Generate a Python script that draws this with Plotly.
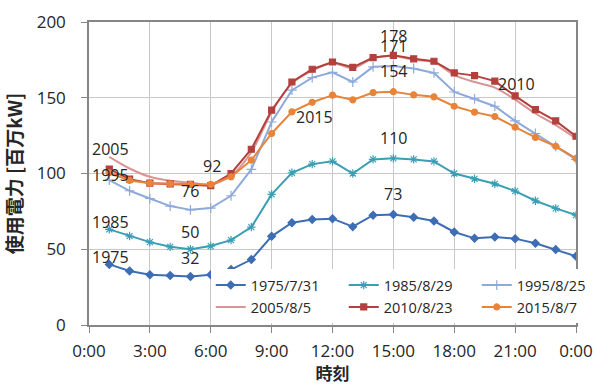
import plotly.graph_objects as go

# Hourly demand (1:00 .. 24:00), unit: million kW
hours = list(range(1, 25))

d1975 = [40, 35.7, 33.1, 32.7, 32, 33.1, 36.6, 43.2, 58.5, 67.5, 69.7, 70.2,
         64.9, 72.5, 73, 71.1, 68.6, 61.4, 57.2, 58.1, 57.0, 53.9, 49.8, 45.4]
d1985 = [63.1, 58.7, 54.7, 51.6, 50, 52.1, 56, 64.6, 86.2, 100.5, 106.2, 108,
         100, 109.3, 110, 109.3, 108, 100, 96.5, 93.2, 88.4, 82, 77, 72.5]
d1995 = [95.6, 88.6, 83.5, 78.5, 76, 77.2, 85.3, 102.7, 134, 155, 163.3, 166.8,
         160.4, 170.4, 171, 169.3, 166.4, 153.8, 149.2, 144.4, 134.7, 126.4, 118, 109.3]
d2005 = [111, 103.3, 97.8, 95.2, 93.9, 92.6, 98.5, 114, 140.5, 159.5, 168, 173,
         169.5, 176, 177.5, 175, 173.5, 165, 160.4, 156.7, 148.8, 139.6, 131.9, 123.1]
d2010 = [102.9, 96.3, 93.6, 93.2, 92.8, 92, 100, 116, 141.8, 160.4, 168.8, 173.6,
         170.1, 176.5, 178, 175.7, 174.1, 166.4, 164.6, 161, 151.2, 142.2, 134.7, 124.6]
d2015 = [100.5, 95.4, 93.6, 93.2, 92.8, 92.8, 97.8, 108.8, 126.4, 140.7, 147, 151.7,
         148.6, 153.4, 154, 151.9, 150.6, 144.4, 140.5, 137.6, 130.6, 123.8, 118, 109.9]

tick_hours = [0, 3, 6, 9, 12, 15, 18, 21, 24]
tick_labels = ["0:00", "3:00", "6:00", "9:00", "12:00", "15:00", "18:00", "21:00", "0:00"]

series = [
    ("1975/7/31", d1975, "#3d6db4", "diamond", 6, "linear"),
    ("1985/8/29", d1985, "#3a9fb5", "asterisk-open", 7, "linear"),
    ("1995/8/25", d1995, "#8eaadb", "cross-thin-open", 7, "linear"),
    ("2005/8/5", d2005, "#d99594", None, 0, "spline"),
    ("2010/8/23", d2010, "#b4403e", "square", 6, "linear"),
    ("2015/8/7", d2015, "#e8843a", "circle", 6, "linear"),
]

TXT = "Open Sans, Noto Sans CJK JP, sans-serif"
CJK = "Noto Sans CJK JP, sans-serif"
INK = "#262626"

fig = go.Figure()
for name, vals, color, sym, size, shape in series:
    if sym is None:
        fig.add_trace(go.Scatter(x=hours, y=vals, name=name, mode="lines",
                                 line=dict(color=color, width=2, shape=shape, smoothing=0.8)))
    else:
        fig.add_trace(go.Scatter(x=hours, y=vals, name=name, mode="lines+markers",
                                 line=dict(color=color, width=2, shape=shape),
                                 marker=dict(symbol=sym, size=size, color=color,
                                             line=dict(color=color, width=1.2))))

# Year labels at the left end of the curves
year_labels = [("2005", d2005[0] + 5.5), ("1995", d1995[0] + 3.5), ("1985", d1985[0] + 5),
               ("1975", d1975[0] + 5)]
for txt, yv in year_labels:
    fig.add_annotation(x=1.05, y=yv, text=txt, showarrow=False,
                       font=dict(family=TXT, size=16, color=INK))

# Night minimum labels
fig.add_annotation(x=6.05, y=d2010[5] + 13, text=f"{d2010[5]:g}", showarrow=False,
                   font=dict(family=TXT, size=16, color=INK))
for vals, dy in [(d1995, 12.5), (d1985, 11.5), (d1975, 12.5)]:
    fig.add_annotation(x=5.0, y=vals[4] + dy, text=f"{vals[4]:g}", showarrow=False,
                       font=dict(family=TXT, size=16, color=INK))

# Daytime peak labels at 15:00
for vals, dy in [(d2010, 12.7), (d1995, 13), (d2015, 13.5), (d1985, 13.5), (d1975, 13.5)]:
    fig.add_annotation(x=15, y=vals[14] + dy, text=f"{vals[14]:g}", showarrow=False,
                       font=dict(family=TXT, size=16, color=INK))

fig.add_annotation(x=11.1, y=137, text="2015", showarrow=False,
                   font=dict(family=TXT, size=16, color=INK))
fig.add_annotation(x=21.05, y=159, text="2010", showarrow=False,
                   font=dict(family=TXT, size=16, color=INK))

fig.update_layout(
    width=595, height=385,
    margin=dict(l=89, r=19, t=22, b=60, autoexpand=False),
    paper_bgcolor="white", plot_bgcolor="white",
    font=dict(family=TXT, size=16, color=INK),
    showlegend=True,
    legend=dict(orientation="h", x=0.25, y=0.006, xanchor="left", yanchor="bottom",
                bgcolor="white", font=dict(family=TXT, size=14.5, color=INK),
                itemwidth=30, tracegroupgap=0, entrywidth=88),
)
fig.update_xaxes(
    range=[0, 24], tickvals=tick_hours, ticktext=tick_labels,
    showgrid=True, gridcolor="#c8c8c8", gridwidth=1,
    showline=True, linecolor="#868686", linewidth=1.5, mirror=True,
    ticks="outside", ticklen=6, tickcolor="#868686", ticklabelstandoff=4,
    tickfont=dict(family=TXT, size=17, color=INK), automargin=False,
    title=dict(text="<b>時刻</b>", font=dict(family=CJK, size=17, color=INK), standoff=6),
    zeroline=False,
)
fig.update_yaxes(
    range=[0, 200], tickvals=[0, 50, 100, 150, 200],
    showgrid=True, gridcolor="#c8c8c8", gridwidth=1,
    showline=True, linecolor="#868686", linewidth=1.5, mirror=True,
    ticks="outside", ticklen=6, tickcolor="#868686", ticklabelstandoff=12,
    tickfont=dict(family=TXT, size=17, color=INK), automargin=False,
    title=dict(text="<b>使用電力 [百万kW]</b>", font=dict(family=CJK, size=19, color=INK),
               standoff=14),
    zeroline=False,
)

fig.write_html("out.html")
